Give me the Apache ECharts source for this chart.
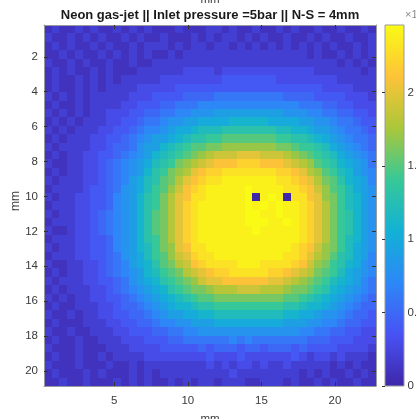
<!DOCTYPE html>
<html>
<head>
<meta charset="utf-8">
<title>Neon gas-jet</title>
<script src="https://cdn.jsdelivr.net/npm/echarts@6/dist/echarts.min.js"></script>
<style>
html, body { margin: 0; padding: 0; background: #fff; }
#main { width: 416px; height: 419px; }
</style>
</head>
<body>
<div id="main"></div>
<script>
// axis ranges in mm (outer edges of the image)
var xRange = [0.22, 22.79];
var yRange = [0.18, 20.86];
var xTicks = [5, 10, 15, 20];
var yTicks = [2, 4, 6, 8, 10, 12, 14, 16, 18, 20];
var cbTicks = [0, 0.5, 1, 1.5, 2];
var cbMax = 2.46;
var parula = ['#3e26a8', '#4852f4', '#2d87f7', '#12b1d6', '#37c897', '#abc739', '#fec338', '#f9fb15'];

// 43 x 43 pixels, one char per pixel = intensity in 0.1 steps (x10^4), base 36
var rows = [
  '1211212112 1212111211 1221211211 2121121121 121',
  '2112121211 2121121112 1212212121 1211212112 112',
  '1212112121 1212221212 2122121212 1212121211 212',
  '1121211212 1212112122 2222222222 2222121121 212',
  '2112121121 1211222222 2222222222 2222222212 121',
  '1212112121 1122222233 3323333333 3333322222 212',
  '1211212121 2222233333 3334444444 3333333322 222',
  '1211212122 2233333444 4444444444 4444443333 222',
  '2121212222 2333444455 5566666666 6555544443 332',
  '1211212222 3344455666 7777777777 7776665544 333',
  '2121212233 3445566778 8899999999 9888776655 443',
  '1212122233 4456678899 aaaabbbbba aaa9988766 544',
  '2121222334 4567789aab cccddddddd ccbba99876 654',
  '1212223344 567899abcd deefffffff eeddcba987 665',
  '2122223345 56899bcdef fgghhhhhhh ggfeedca98 765',
  '1212233445 6789bcdefg hijjjkkkjj jihgfedca9 876',
  '2112233456 789acdeghi jklllmmmll lkjihfedba 986',
  '1212233456 789bdeghik lmmnnnnnnn mmlkihfecb 987',
  '2122233456 79acdfgikl mnnooooooo nnmlkigfdb a97',
  '1222234456 89acefhjlm nooooopooo onnmljhfec a98',
  '2122334457 89bdegikln nooooop0op o0nnlkhgec b98',
  '1222334457 89bdegikmn oooooopopo poonmkigec b98',
  '2122334567 89bdfgikmn ooooooppoo poonmkiged b98',
  '1222334567 89bdfgikmn oooooopppo oponmkiged b98',
  '2112334567 89bdfgikmn ooooooopoo ooonmkiged b98',
  '1222334457 89bdegikmn oooooooooo ooonmkigec b98',
  '2122334457 89bceghkln nooooooooo oonmljhgec a98',
  '1222334456 89acefhjkm nnoooooooo onnmkihfdc a97',
  '2112233456 79abdfgijl mnnnnooonn nnmljhgedb a87',
  '1212233456 789bcefgij klmmnnnnnm mlkjigfeca 987',
  '2122233445 689abdefgh jkkllllllk kjihgfecba 976',
  '1212223345 6789abdefg ghiiijjjii ihggfedba9 876',
  '2121223344 56789abcde ffgggggggg gffedcba98 765',
  '1211222334 556789abbc ddeeeeeeee eddcbba987 655',
  '2112122334 45567899aa bbcccccccc cbbaa98876 554',
  '1211122233 4455677889 99aaaaaaaa a999887765 544',
  '2112112223 3444556677 8888888888 8887766554 433',
  '1211211222 3334445566 6666767666 6666555444 333',
  '2111211122 2333344444 5455545545 5545444433 332',
  '1211211212 2223333333 3433343333 3343233232 221',
  '2111211121 1212222222 2323233232 2322222121 211',
  '1211121211 1212122222 2222322222 2221212112 121',
  '1121121112 1212112121 2212221122 2121121211 211'
];

var nRow = rows.length;
var nCol = rows[0].replace(/ /g, '').length;
var dx = (xRange[1] - xRange[0]) / nCol;
var dy = (yRange[1] - yRange[0]) / nRow;
var cells = [];
rows.forEach(function (row, r) {
    row.replace(/ /g, '').split('').forEach(function (ch, c) {
        cells.push([xRange[0] + (c + 0.5) * dx, yRange[0] + (r + 0.5) * dy, parseInt(ch, 36) / 10]);
    });
});

var axisGray = '#9a9a9a';
var tickColor = '#333';
var labelColor = '#3a3a3a';
var font = '"Liberation Sans", Arial, Helvetica, sans-serif';

function boxAxis(pos, range, ticks, withLabels, inverse) {
    return {
        type: 'value', gridIndex: 0, position: pos, inverse: !!inverse,
        min: range[0], max: range[1], z: 10,
        axisLine: { show: true, onZero: false, lineStyle: { color: axisGray, width: 1 } },
        axisTick: { show: true, inside: true, length: 4, customValues: ticks, lineStyle: { color: tickColor } },
        axisLabel: { show: withLabels, customValues: ticks, color: labelColor, fontSize: 11.5, fontFamily: font, margin: pos === 'bottom' ? 9 : 6 },
        splitLine: { show: false }
    };
}

var myChart = echarts.init(document.getElementById('main'), null, { renderer: 'canvas' });

myChart.setOption({
    animation: false,
    backgroundColor: '#fff',
    grid: [
        { left: 44, top: 25, width: 332, height: 361, outerBoundsMode: 'none', containLabel: false },
        { left: 385, top: 25, width: 19, height: 361, outerBoundsMode: 'none', containLabel: false }
    ],
    xAxis: [
        boxAxis('bottom', xRange, xTicks, true),
        boxAxis('top', xRange, xTicks, false),
        { type: 'value', gridIndex: 1, min: 0, max: 1, show: false }
    ],
    yAxis: [
        boxAxis('left', yRange, yTicks, true, true),
        boxAxis('right', yRange, yTicks, false, true),
        {
            type: 'value', gridIndex: 1, position: 'right', min: 0, max: cbMax, z: 10,
            axisLine: { show: false },
            axisTick: { show: true, inside: true, length: 3, customValues: cbTicks, lineStyle: { color: tickColor } },
            axisLabel: { customValues: cbTicks, color: labelColor, fontSize: 11.5, fontFamily: font, margin: 3.5 },
            splitLine: { show: false }
        }
    ],
    visualMap: {
        show: false,
        seriesIndex: 0,
        dimension: 2,
        min: 0,
        max: cbMax,
        inRange: { color: parula }
    },
    series: [
        {
            type: 'custom',
            xAxisIndex: 0,
            yAxisIndex: 0,
            clip: true,
            silent: true,
            data: cells,
            renderItem: function (params, api) {
                var vx = api.value(0), vy = api.value(1);
                var a = api.coord([vx - dx / 2, vy - dy / 2]);
                var b = api.coord([vx + dx / 2, vy + dy / 2]);
                var x0 = Math.round(Math.min(a[0], b[0])), x1 = Math.round(Math.max(a[0], b[0]));
                var y0 = Math.round(Math.min(a[1], b[1])), y1 = Math.round(Math.max(a[1], b[1]));
                return {
                    type: 'rect',
                    shape: { x: x0, y: y0, width: x1 - x0, height: y1 - y0 },
                    style: { fill: api.visual('color'), stroke: null }
                };
            }
        },
        {
            type: 'custom',
            xAxisIndex: 2,
            yAxisIndex: 2,
            silent: true,
            data: [[0.5, cbMax / 2]],
            renderItem: function (params, api) {
                var p0 = api.coord([0, cbMax]);
                var p1 = api.coord([1, 0]);
                return {
                    type: 'rect',
                    shape: { x: p0[0], y: p0[1], width: p1[0] - p0[0], height: p1[1] - p0[1] },
                    style: {
                        fill: new echarts.graphic.LinearGradient(0, 1, 0, 0, parula.map(function (c, i) {
                            return { offset: i / (parula.length - 1), color: c };
                        })),
                        stroke: axisGray,
                        lineWidth: 1
                    }
                };
            }
        }
    ],
    graphic: [
        {
            type: 'text', x: 210, y: 15,
            style: { text: 'Neon gas-jet || Inlet pressure =5bar || N-S = 4mm', font: 'bold 13px ' + font, fill: '#1a1a1a', align: 'center', verticalAlign: 'middle' }
        },
        {
            type: 'text', x: 210, y: 6,
            style: { text: 'mm', font: '11.5px ' + font, fill: labelColor, align: 'center', verticalAlign: 'bottom' }
        },
        {
            type: 'text', x: 210, y: 413,
            style: { text: 'mm', font: '11.5px ' + font, fill: labelColor, align: 'center', verticalAlign: 'top' }
        },
        {
            type: 'text', x: 16, y: 201, rotation: Math.PI / 2,
            style: { text: 'mm', font: '12px ' + font, fill: labelColor, align: 'center', verticalAlign: 'middle' }
        },
        {
            type: 'text', x: 405, y: 15,
            style: { text: '×10⁴', font: '11px ' + font, fill: '#8a8a8a', align: 'left', verticalAlign: 'middle' }
        }
    ]
});
</script>
</body>
</html>
